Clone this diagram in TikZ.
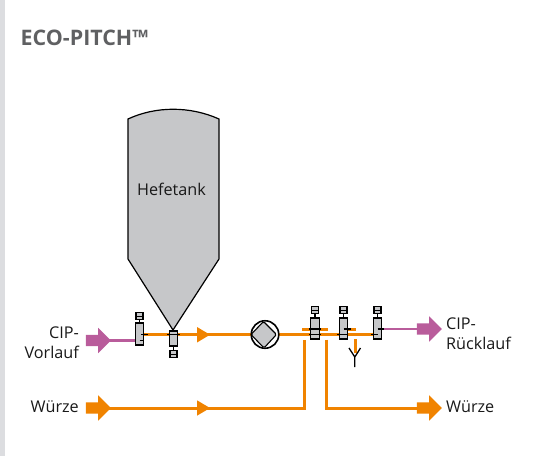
\documentclass[tikz,border=0pt]{standalone}
\usepackage{fontspec}
\setmainfont{Open Sans}
\usetikzlibrary{shapes.arrows,shapes.geometric,calc}
\definecolor{wort}{HTML}{F08300}
\definecolor{cip}{HTML}{B95C9B}
\definecolor{tankgrey}{HTML}{C6C7C9}
\definecolor{stripgrey}{HTML}{DCDDE0}
\definecolor{titlegrey}{HTML}{5F6062}
\newcommand{\shaft}{\rule{0pt}{11pt}}
\tikzset{
  bigarrow/.style={single arrow,minimum width=24pt,minimum height=25pt,inner sep=0pt,outer sep=0pt,
    single arrow head extend=7pt,single arrow head indent=0pt,shape border rotate=0,draw=none,fill=#1},
  wortline/.style={draw=wort,line width=3pt},
  cipline/.style={draw=cip,line width=2.6pt},
  valvebody/.style={draw=black,fill=tankgrey,line width=1.3pt,minimum width=8.5pt,inner sep=0pt},
  actuator/.style={draw=black,fill=tankgrey,line width=1.3pt,minimum width=7pt,minimum height=7.5pt,inner sep=0pt,
    path picture={\draw[black,line width=.8pt] (path picture bounding box.west) -- (path picture bounding box.east);}},
  blk/.style={draw=black,line width=1.2pt},
  label/.style={font=\fontsize{16.2}{22}\selectfont,text=black!90,inner sep=0pt},
  midtip/.style={fill=wort,draw=none},
}
\begin{document}
\begin{tikzpicture}[x=1pt,y=-1pt]
\useasboundingbox (0,0) rectangle (545,456);
\fill[stripgrey] (0,0) rectangle (5,456);
\node[anchor=base west,inner sep=0pt,text=titlegrey,font=\bfseries\fontsize{21.4}{24}\selectfont] (title) at (20.5,45.5) {ECO-PITCH™};

% tank
\path[draw=black,fill=tankgrey,line width=1.2pt]
  (128,119) .. controls (156,106) and (190,106) .. (219,119) -- (219,259) -- (173,330) -- (128,259) -- cycle;
\node[label] (tank) at (171.5,189) {Hefetank};

% terminals
\node[bigarrow=cip] (cipin) at (95.5,340.5) {\shaft};
\node[bigarrow=wort] (wurzein) at (95.5,408) {\shaft};
\node[bigarrow=cip] (cipout) at (426.5,329) {\shaft};
\node[bigarrow=wort] (wurzeout) at (426.5,408) {\shaft};

% labels
\node[label,anchor=base east] (l1) at (79,338) {CIP-};
\node[label,anchor=base east] (l2) at (79,358.5) {Vorlauf};
\node[label,anchor=base east] (l3) at (79,412.5) {Würze};
\node[label,anchor=base west] (l4) at (446,329) {CIP-};
\node[label,anchor=base west] (l5) at (446,349.5) {Rücklauf};
\node[label,anchor=base west] (l6) at (446,412.5) {Würze};

% coordinates
\coordinate (j1) at (304,408);
\coordinate (j1t) at (304,339.5);
\coordinate (j2) at (326,408);
\coordinate (j2t) at (326,339.5);
\coordinate (dropt) at (355,339);
\coordinate (dropb) at (355,353);
\coordinate (pumpc) at (265,334.5);
\coordinate (mainl) at (144,334.7);
\coordinate (mainr) at (373,334.7);
\coordinate (barAl) at (302,329);
\coordinate (barAr) at (328,329);
\coordinate (barBl) at (343,329);
\coordinate (barBr) at (356,329);

% orange pipes
\draw[wortline] (mainl) -- (mainr);
\draw[wortline] (barAl) -- (barAr);
\draw[wortline] (barBl) -- (barBr);
\draw[wortline] (wurzein.center) -- (j1) -- (j1t);
\draw[wortline] (j2t) -- (j2) -- (wurzeout.center);
\draw[wortline] (dropt) -- (dropb);

% mid arrows
\fill[midtip] (197,327) -- (210,334.7) -- (197,342.5) -- cycle;
\fill[midtip] (197,400.3) -- (210,408) -- (197,415.7) -- cycle;

% Y outlet
\coordinate (yl) at (349,348);
\coordinate (yr) at (360.5,348);
\coordinate (yc) at (354.8,357);
\coordinate (yb) at (354.8,367);
\draw[black,line width=1.3pt] (yl) -- (yc) -- (yr) (yc) -- (yb);

% valves
\node[valvebody,minimum height=22pt] (v1) at (139.5,334) {};
\node[actuator] (a1) at (139.5,316) {};
\draw[blk] (a1) -- (v1);
\node[valvebody,minimum height=15pt] (v2) at (173.5,338.5) {};
\node[actuator] (a2) at (173.5,354) {};
\draw[blk] (v2) -- (a2);
\node[valvebody,minimum height=21pt] (v3) at (315,328.5) {};
\node[actuator] (a3) at (315,310) {};
\draw[blk] (a3) -- (v3);
\node[valvebody,minimum height=21pt] (v4) at (343.5,328.5) {};
\node[actuator] (a4) at (343.5,310) {};
\draw[blk] (a4) -- (v4);
\node[valvebody,minimum height=21pt] (v5) at (377.5,328.5) {};
\node[actuator] (a5) at (377.5,310) {};
\draw[blk] (a5) -- (v5);

% purple pipes
\draw[cipline] (cipin.center) -- (v1.west |- cipin);
\draw[cipline] (v5.east |- cipout) -- (cipout.center);

% port ticks
\draw[blk] (139.5,340.5) -- (144,340.5) (141,334.7) -- (148,334.7);
\draw[blk] (167,334.7) -- (180,334.7);
\draw[blk] (309,329) -- (321,329) (309,334.7) -- (321,334.7);
\draw[blk] (343.5,329) -- (350.5,329) (337,334.7) -- (347.5,334.7);
\draw[blk] (371,334.7) -- (378,334.7) (377.5,329) -- (384,329);

% pump
\node[circle,draw=black,fill=white,line width=1.6pt,minimum size=27.5pt,inner sep=0pt] (pump) at (pumpc) {};
\path[draw=black,fill=tankgrey,line width=1.1pt,rounded corners=1.5pt]
  (263.5,321.5) -- (276.5,334.5) -- (264,348) -- (251,334.5) -- cycle;
\end{tikzpicture}
\end{document}
